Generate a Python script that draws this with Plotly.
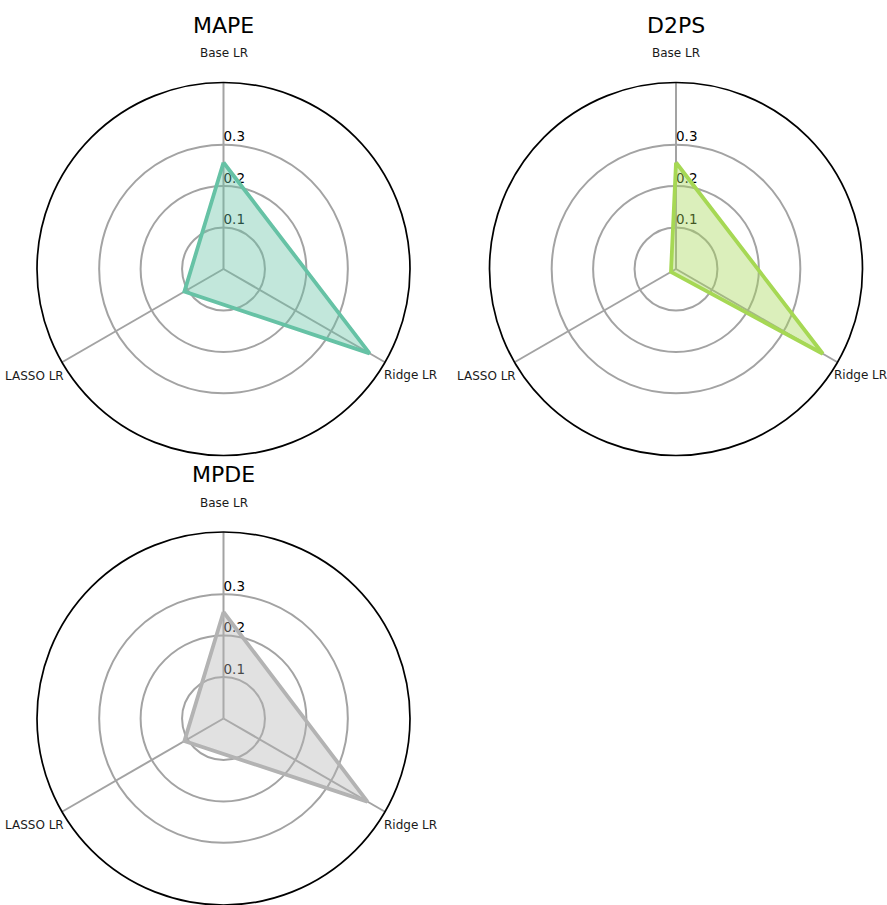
import math
import plotly.graph_objects as go

# Models compared on each radar panel
models = ["Base LR", "Ridge LR", "LASSO LR"]

# Error metrics (one panel each)
metrics = ["MAPE", "D2PS", "MPDE"]
mape_values = [0.257, 0.407, 0.109]
d2ps_values = [0.257, 0.409, 0.014]
mpde_values = [0.257, 0.401, 0.109]

# Radial grid
radial_ticks = [0.1, 0.2, 0.3]
radial_ticktext = ["0.1", "0.2", "0.3"]
radial_max = 0.45

line_colors = ["#66c2a5", "#a6d854", "#b3b3b3"]
fill_colors = ["rgba(102,194,165,0.4)", "rgba(166,216,84,0.4)", "rgba(179,179,179,0.4)"]

W, H = 887, 905
FONT = "DejaVu Sans"
LABEL_SIZE = 12
GRID = "#a3a3a3"

# panel centres / radius in pixels
centers = [(223.5, 269.0), (676.0, 269.0), (223.5, 718.5)]
radius_px = 186.5
title_gap = 57.5

series = [mape_values, d2ps_values, mpde_values]


def text_width(s, size):
    # rough DejaVu Sans advance width
    return 0.565 * size * len(s)


fig = go.Figure()
annotations = []

for i, (name, vals) in enumerate(zip(metrics, series)):
    pid = "polar" if i == 0 else f"polar{i + 1}"
    cx, cy = centers[i]

    # radial tick labels, sitting just above each grid circle
    fig.add_trace(go.Scatterpolar(
        r=radial_ticks, theta=[models[0]] * len(radial_ticks),
        text=radial_ticktext, mode="text", textposition="top right",
        textfont=dict(family=FONT, size=13.5, color="#000000"),
        cliponaxis=False, hoverinfo="skip", showlegend=False, subplot=pid,
    ))

    # the metric polygon
    fig.add_trace(go.Scatterpolar(
        r=vals + [vals[0]], theta=models + [models[0]],
        mode="lines", fill="toself", fillcolor=fill_colors[i],
        line=dict(color=line_colors[i], width=3.8),
        name=name, showlegend=False, subplot=pid,
    ))

    fig.update_layout({
        pid: dict(
            domain=dict(
                x=[(cx - radius_px) / W, (cx + radius_px) / W],
                y=[max(0.0, (H - cy - radius_px) / H), min(1.0, (H - cy + radius_px) / H)],
            ),
            bgcolor="white",
            radialaxis=dict(
                range=[0, radial_max], tickvals=radial_ticks, showticklabels=False,
                ticks="", showline=False, gridcolor=GRID, gridwidth=1.5,
                angle=90, layer="below traces",
            ),
            angularaxis=dict(
                type="category", categoryarray=models, rotation=90,
                direction="clockwise", showticklabels=False, ticks="",
                showline=True, linecolor="#000000", linewidth=1.7,
                gridcolor=GRID, gridwidth=1.5, layer="below traces",
            ),
        )
    })

    # panel title
    annotations.append(dict(
        text=name, x=cx / W, y=1 - (cy - radius_px - title_gap) / H,
        xref="paper", yref="paper", xanchor="center", yanchor="middle",
        showarrow=False, font=dict(family=FONT, size=22, color="#000000"),
    ))

    # category labels just outside the outer ring
    for k, label in enumerate(models):
        ang = math.radians(90 - 360 * k / len(models))
        px = cx + radius_px * math.cos(ang)
        py = cy - radius_px * math.sin(ang)
        c = math.cos(ang)
        if abs(c) < 0.1:
            xanchor, xshift, yshift = "center", 0, 29.5
        elif c > 0:
            # keep the label inside the page on the right edge
            room = W - 1 - px - text_width(label, LABEL_SIZE)
            xanchor, xshift, yshift = "left", min(-3, room), -13
        else:
            xanchor, xshift, yshift = "right", 4, -13.5
        annotations.append(dict(
            text=label, x=px / W, y=1 - py / H, xref="paper", yref="paper",
            xanchor=xanchor, yanchor="middle", xshift=xshift, yshift=yshift,
            showarrow=False, font=dict(family=FONT, size=LABEL_SIZE, color="#1a1a1a"),
        ))

fig.update_layout(
    width=W, height=H,
    margin=dict(l=0, r=0, t=0, b=0),
    paper_bgcolor="white",
    font=dict(family=FONT),
    annotations=annotations,
    showlegend=False,
)

fig.write_html("out.html")
